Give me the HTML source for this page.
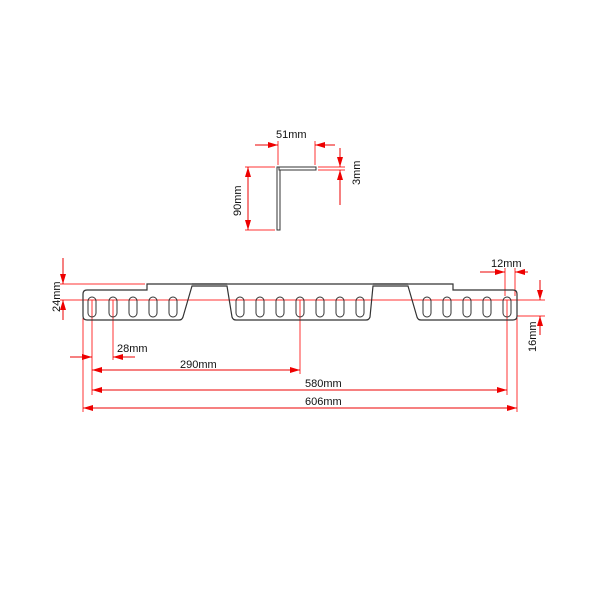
<!DOCTYPE html>
<html><head><style>body{margin:0;background:#fff}svg{display:block}</style></head><body>
<svg width="600" height="600" viewBox="0 0 600 600" xmlns="http://www.w3.org/2000/svg" font-family="Liberation Sans, sans-serif" font-size="11">
<defs>
<marker id="a" viewBox="0 0 10 6" refX="10" refY="3" markerWidth="10" markerHeight="6" orient="auto-start-reverse" markerUnits="userSpaceOnUse"><path d="M0,0L10,3L0,6z" fill="#e00"/></marker>
</defs>
<rect width="600" height="600" fill="#fff"/>
<!-- red extension lines -->
<g stroke="#f33" stroke-width="1" fill="none">
<line x1="60" y1="300" x2="545" y2="300"/>
<line x1="60" y1="284" x2="145" y2="284"/>
<line x1="92" y1="300" x2="92" y2="395"/>
<line x1="113" y1="300" x2="113" y2="360"/>
<line x1="300" y1="300" x2="300" y2="374"/>
<line x1="507" y1="300" x2="507" y2="395"/>
<line x1="83" y1="318" x2="83" y2="412"/>
<line x1="517" y1="318" x2="517" y2="412"/>
<line x1="505" y1="268" x2="505" y2="296"/>
<line x1="515" y1="268" x2="515" y2="296"/>
<line x1="517" y1="316" x2="545" y2="316"/>
<line x1="278" y1="141" x2="278" y2="165"/>
<line x1="315" y1="141" x2="315" y2="165"/>
<line x1="318" y1="167" x2="345" y2="167"/>
<line x1="318" y1="170" x2="345" y2="170"/>
<line x1="245" y1="167" x2="275" y2="167"/>
<line x1="245" y1="230" x2="275" y2="230"/>
</g>
<!-- dimension lines -->
<g stroke="#e00" stroke-width="1" fill="none">
<line x1="63" y1="258" x2="63" y2="284" marker-end="url(#a)"/>
<line x1="63" y1="320" x2="63" y2="300" marker-end="url(#a)"/>
<line x1="70" y1="357" x2="92" y2="357" marker-end="url(#a)"/>
<line x1="135" y1="357" x2="113" y2="357" marker-end="url(#a)"/>
<line x1="92" y1="370" x2="300" y2="370" marker-start="url(#a)" marker-end="url(#a)"/>
<line x1="92" y1="390" x2="507" y2="390" marker-start="url(#a)" marker-end="url(#a)"/>
<line x1="83" y1="408" x2="517" y2="408" marker-start="url(#a)" marker-end="url(#a)"/>
<line x1="480" y1="272" x2="505" y2="272" marker-end="url(#a)"/>
<line x1="528" y1="272" x2="515" y2="272" marker-end="url(#a)"/>
<line x1="540" y1="280" x2="540" y2="300" marker-end="url(#a)"/>
<line x1="540" y1="335" x2="540" y2="316" marker-end="url(#a)"/>
<line x1="255" y1="145" x2="278" y2="145" marker-end="url(#a)"/>
<line x1="335" y1="145" x2="315" y2="145" marker-end="url(#a)"/>
<line x1="340" y1="148" x2="340" y2="167" marker-end="url(#a)"/>
<line x1="340" y1="205" x2="340" y2="170" marker-end="url(#a)"/>
<line x1="248" y1="167" x2="248" y2="230" marker-start="url(#a)" marker-end="url(#a)"/>
</g>
<!-- part outline -->
<g stroke="#333" stroke-width="1.2" fill="none">
<path d="M147,290 L147,284 L453,284 L453,290 L513,290 Q517,290 517,294 L517,316 Q517,320 513,320 L421,320 Q418,320 417,317 L408,286 L373,286 L370,317 Q369,320 366,320 L236,320 Q233,320 232,317 L227,286 L192,286 L183,317 Q182,320 179,320 L87,320 Q83,320 83,316 L83,294 Q83,290 87,290 Z"/>
<line x1="192" y1="284" x2="227" y2="284"/>
<line x1="373" y1="284" x2="408" y2="284"/>
</g>
<g stroke="#333" stroke-width="1" fill="none">
<rect x="88" y="297" width="8" height="20" rx="4"/>
<rect x="109" y="297" width="8" height="20" rx="4"/>
<rect x="129" y="297" width="8" height="20" rx="4"/>
<rect x="149" y="297" width="8" height="20" rx="4"/>
<rect x="169" y="297" width="8" height="20" rx="4"/>
<rect x="236" y="297" width="8" height="20" rx="4"/>
<rect x="256" y="297" width="8" height="20" rx="4"/>
<rect x="276" y="297" width="8" height="20" rx="4"/>
<rect x="296" y="297" width="8" height="20" rx="4"/>
<rect x="316" y="297" width="8" height="20" rx="4"/>
<rect x="336" y="297" width="8" height="20" rx="4"/>
<rect x="356" y="297" width="8" height="20" rx="4"/>
<rect x="423" y="297" width="8" height="20" rx="4"/>
<rect x="443" y="297" width="8" height="20" rx="4"/>
<rect x="463" y="297" width="8" height="20" rx="4"/>
<rect x="483" y="297" width="8" height="20" rx="4"/>
<rect x="503" y="297" width="8" height="20" rx="4"/>
</g>
<!-- angle profile -->
<g stroke="#333" stroke-width="1" fill="#fff">
<rect x="277" y="167" width="3" height="63"/>
<rect x="279" y="167" width="37" height="3"/>
</g>
<g fill="#111">
<text x="117" y="352">28mm</text>
<text x="180" y="368">290mm</text>
<text x="305" y="387">580mm</text>
<text x="305" y="405">606mm</text>
<text x="491" y="267">12mm</text>
<text x="276" y="138">51mm</text>
<text transform="translate(60,312) rotate(-90)">24mm</text>
<text transform="translate(536,352) rotate(-90)">16mm</text>
<text transform="translate(360,185) rotate(-90)">3mm</text>
<text transform="translate(241,216) rotate(-90)">90mm</text>
</g>
</svg>
</body></html>
